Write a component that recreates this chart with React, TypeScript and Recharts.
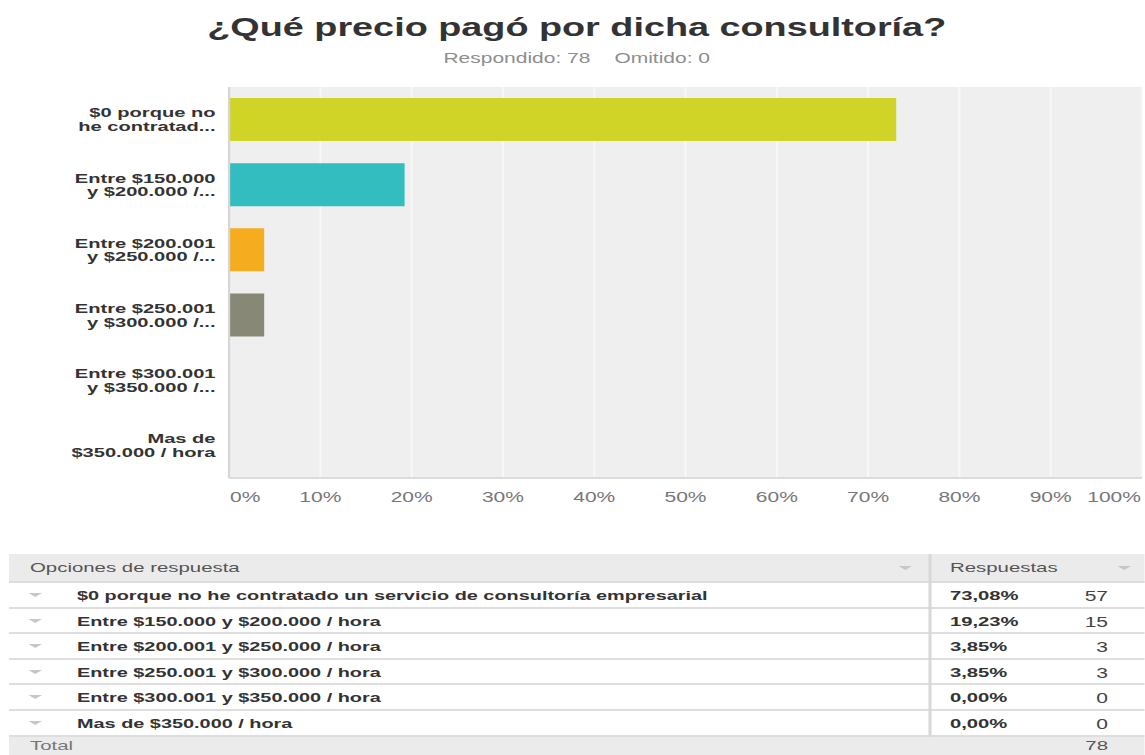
import { BarChart, Bar, XAxis, YAxis, CartesianGrid, Cell } from 'recharts'

// the reference is a horizontally stretched screenshot, so draw narrow and stretch
const STRETCH = 1.5
const W = 1145 / STRETCH

const title = '¿Qué precio pagó por dicha consultoría?'
const answered = 78
const omitted = 0

const categories = [
  '$0 porque no he contratado un servicio de consultoría empresarial',
  'Entre $150.000 y $200.000 / hora',
  'Entre $200.001 y $250.000 / hora',
  'Entre $250.001 y $300.000 / hora',
  'Entre $300.001 y $350.000 / hora',
  'Mas de $350.000 / hora',
]
const axisLabels = [
  ['$0 porque no', 'he contratad...'],
  ['Entre $150.000', 'y $200.000 /...'],
  ['Entre $200.001', 'y $250.000 /...'],
  ['Entre $250.001', 'y $300.000 /...'],
  ['Entre $300.001', 'y $350.000 /...'],
  ['Mas de', '$350.000 / hora'],
]
const percents = [73.08, 19.23, 3.85, 3.85, 0, 0]
const counts = [57, 15, 3, 3, 0, 0]
const total = 78
const barColors = ['#cfd427', '#33bdbf', '#f5ac1f', '#888877', '#7d3f98', '#e55e4f']
const xTicks = [0, 10, 20, 30, 40, 50, 60, 70, 80, 90, 100]

const data = categories.map((c, i) => ({
  label: axisLabels[i].join('\n'),
  pct: percents[i],
}))

const FONT = '"Liberation Sans", Arial, Helvetica, sans-serif'

function CatTick(props: { x?: number; y?: number; payload?: { value: string } }) {
  const { x = 0, y = 0, payload } = props
  const lines = (payload?.value ?? '').split('\n')
  return (
    <text x={x - 9} y={y} textAnchor="end" fontFamily={FONT} fontSize={13.4} fontWeight="bold" fill="#333">
      {lines.map((l, i) => (
        <tspan key={i} x={x - 9} y={y + (i === 0 ? -6.8 : 6.8)} dy="0.35em">
          {l}
        </tspan>
      ))}
    </text>
  )
}

function PctTick(props: { x?: number; y?: number; payload?: { value: number } }) {
  const { x = 0, y = 0, payload } = props
  const v = payload?.value ?? 0
  const anchor = v === 0 ? 'start' : v === 100 ? 'end' : 'middle'
  const dx = v === 0 ? 0.7 : v === 100 ? -0.7 : 0
  return (
    <text x={x + dx} y={y + 24} textAnchor={anchor} fontFamily={FONT} fontSize={14} fill="#777">
      {`${v}%`}
    </text>
  )
}

function Arrow({ left, top }: { left: number; top: number }) {
  return (
    <svg width={9} height={4} style={{ position: 'absolute', left, top }}>
      <polygon points="0,0 9,0 4.5,4" fill="#c6c6c6" />
    </svg>
  )
}

const TABLE_LEFT = 6
const HEADER_TOP = 554
const HEADER_H = 29
const ROW_H = 25.6
const DIVIDER = 619.3

export default function App() {
  const rowTop = (i: number) => HEADER_TOP + HEADER_H + i * ROW_H
  const totalTop = rowTop(categories.length)
  return (
    <div style={{ position: 'absolute', left: 0, top: 0, width: 1145, height: 755, overflow: 'hidden', background: '#fff' }}>
      <div
        style={{
          position: 'absolute',
          left: 0,
          top: 0,
          width: W,
          height: 755,
          transform: `scaleX(${STRETCH})`,
          transformOrigin: '0 0',
          fontFamily: FONT,
        }}
      >
        <svg width={W} height={80} style={{ position: 'absolute', left: 0, top: 0 }}>
          <text x={384.5} y={36} textAnchor="middle" fontFamily={FONT} fontSize={25.2} fontWeight="bold" fill="#333">
            {title}
          </text>
          <text x={384.5} y={63} textAnchor="middle" fontFamily={FONT} fontSize={14} fill="#8e8e8e">
            {`Respondido: ${answered}`}
            <tspan dx={16}>{`Omitido: ${omitted}`}</tspan>
          </text>
        </svg>

        <div style={{ position: 'absolute', left: 0, top: 0 }}>
          <BarChart
            width={W}
            height={520}
            data={data}
            layout="vertical"
            margin={{ top: 87, right: W - 761.33, bottom: 0, left: 0 }}
          >
            <CartesianGrid horizontal={false} fill="#efefef" fillOpacity={1} stroke="#f8f8f8" strokeWidth={1.3} />
            <XAxis
              type="number"
              domain={[0, 100]}
              ticks={xTicks}
              interval={0}
              height={42}
              tickSize={0}
              tickMargin={0}
              tickLine={false}
              axisLine={{ stroke: '#dcdcdc', strokeWidth: 2 }}
              tick={<PctTick />}
            />
            <YAxis
              type="category"
              dataKey="label"
              width={152.7}
              interval={0}
              tickSize={0}
              tickMargin={0}
              tickLine={false}
              axisLine={{ stroke: '#d6d6d6', strokeWidth: 1.5 }}
              tick={<CatTick />}
            />
            <Bar dataKey="pct" barSize={43} isAnimationActive={false}>
              {data.map((d, i) => (
                <Cell key={d.label} fill={barColors[i]} />
              ))}
            </Bar>
          </BarChart>
        </div>

        {/* response table */}
        <div
          style={{
            position: 'absolute',
            left: TABLE_LEFT,
            top: HEADER_TOP,
            width: W - TABLE_LEFT,
            height: HEADER_H,
            background: '#ebebeb',
            borderBottom: '2px solid #dcdcdc',
            boxSizing: 'border-box',
            fontSize: 13.6,
            color: '#555',
          }}
        >
          <span style={{ position: 'absolute', left: 20 - TABLE_LEFT, top: 6 }}>Opciones de respuesta</span>
          <Arrow left={598.7 - TABLE_LEFT} top={12} />
          <div style={{ position: 'absolute', left: DIVIDER - TABLE_LEFT, top: 0, width: 1.5, height: HEADER_H, background: '#d8d8d8' }} />
          <span style={{ position: 'absolute', left: 633.3 - TABLE_LEFT, top: 6 }}>Respuestas</span>
          <Arrow left={745.3 - TABLE_LEFT} top={12} />
        </div>

        {categories.map((c, i) => (
          <div
            key={c}
            style={{
              position: 'absolute',
              left: TABLE_LEFT,
              top: rowTop(i),
              width: W - TABLE_LEFT,
              height: ROW_H,
              borderBottom: '2px solid #dedede',
              boxSizing: 'border-box',
              fontSize: 13.25,
            }}
          >
            <Arrow left={19.3 - TABLE_LEFT} top={10} />
            <span style={{ position: 'absolute', left: 51.3 - TABLE_LEFT, top: 5, fontWeight: 'bold', color: '#333' }}>{c}</span>
            <div style={{ position: 'absolute', left: DIVIDER - TABLE_LEFT, top: -2, width: 1.5, height: ROW_H + 2, background: '#d8d8d8' }} />
            <span style={{ position: 'absolute', left: 633.3 - TABLE_LEFT, top: 5, fontWeight: 'bold', color: '#333', fontSize: 13.5 }}>
              {percents[i].toFixed(2).replace('.', ',') + '%'}
            </span>
            <span style={{ position: 'absolute', right: W - 738.7, top: 5, color: '#444', fontSize: 14 }}>{counts[i]}</span>
          </div>
        ))}

        <div
          style={{
            position: 'absolute',
            left: TABLE_LEFT,
            top: totalTop,
            width: W - TABLE_LEFT,
            height: 30,
            background: '#ebebeb',
            fontSize: 13.6,
            color: '#777',
          }}
        >
          <span style={{ position: 'absolute', left: 20 - TABLE_LEFT, top: 1.5 }}>Total</span>
          <span style={{ position: 'absolute', right: W - 738.7, top: 1.5, color: '#555' }}>{total}</span>
        </div>
      </div>
    </div>
  )
}
